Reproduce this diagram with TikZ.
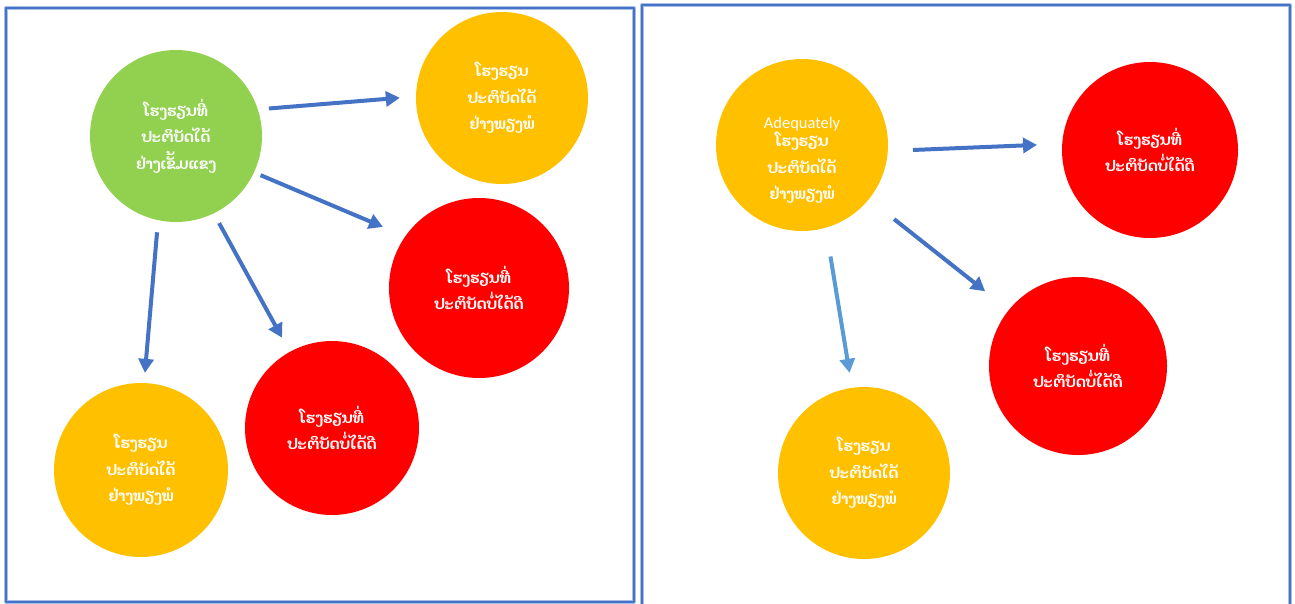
\documentclass[tikz,border=0pt]{standalone}
\usepackage{fontspec}
\newfontfamily\laofont[Script=Lao]{Dhyana}
\newfontfamily\latinfont{Carlito}
\usetikzlibrary{arrows.meta}
\definecolor{frameblue}{HTML}{4472C4}
\definecolor{framehalo}{HTML}{A9BDE6}
\definecolor{lightarrow}{HTML}{5B9BD5}
\definecolor{goodgreen}{HTML}{92D050}
\definecolor{okyellow}{HTML}{FFC000}
\definecolor{badred}{HTML}{FF0000}
\tikzset{
	school/.style={circle,minimum size=#1,inner sep=0pt,text=white,align=center,font=\laofont\bfseries\fontsize{15}{26.5}\selectfont},
	strong/.style={school=#1,fill=goodgreen},
	enough/.style={school=#1,fill=okyellow},
	weak/.style={school=#1,fill=badred},
	arr/.style={line width=4pt,frameblue,-{Triangle[length=14pt,width=15pt]}}
}
\begin{document}
\begin{tikzpicture}[x=1pt,y=-1pt,line join=round]
	\useasboundingbox (0,0) rectangle (1295,603);
	% panels
	\draw[framehalo,line width=4pt] (6,8) rectangle (634,602);
	\draw[frameblue,line width=1.6pt] (6,8) rectangle (634,602);
	\draw[framehalo,line width=4pt] (642,606)--(642,5)--(1290,5)--(1290,606);
	\draw[frameblue,line width=1.6pt] (642,606)--(642,5)--(1290,5)--(1290,606);
	% left panel
	\node[strong=172pt] (g) at (176,136) {ໂຮງຮຽນທີ່\\ປະຕິບັດໄດ້\\ຢ່າງເຂັ້ມແຂງ};
	\node[enough=172pt] (y1) at (502,98) {ໂຮງຮຽນ\\ປະຕິບັດໄດ້\\ຢ່າງພຽງພໍ};
	\node[weak=180pt] (r1) at (479,288) {ໂຮງຮຽນທີ່\\ປະຕິບັດບໍ່ໄດ້ດີ};
	\node[weak=174pt] (r2) at (332,428) {ໂຮງຮຽນທີ່\\ປະຕິບັດບໍ່ໄດ້ດີ};
	\node[enough=174pt] (y2) at (141,470) {ໂຮງຮຽນ\\ປະຕິບັດໄດ້\\ຢ່າງພຽງພໍ};
	\draw[arr,shorten <=11pt,shorten >=16pt] (g.18.6) -- (y1.179.4);
	\draw[arr,shorten <=7pt,shorten >=24pt] (g.-25.5) -- (r1.145.7);
	\draw[arr,shorten <=11pt,shorten >=16pt] (g.-64.5) -- (r2.119.5);
	\draw[arr,shorten <=12pt,shorten >=10pt] (g.-102.9) -- (y2.88.8);
	% right panel
	\node[enough=172pt] (y3) at (802,145) {{\latinfont\mdseries\fontsize{16.5}{16}\selectfont\rule{0pt}{42pt}Adequately}\\[-8pt]ໂຮງຮຽນ\\ປະຕິບັດໄດ້\\ຢ່າງພຽງພໍ};
	\node[weak=176pt] (r3) at (1150,150) {ໂຮງຮຽນທີ່\\ປະຕິບັດບໍ່ໄດ້ດີ};
	\node[weak=178pt] (r4) at (1078,366) {ໂຮງຮຽນທີ່\\ປະຕິບັດບໍ່ໄດ້ດີ};
	\node[enough=172pt] (y4) at (864,473) {ໂຮງຮຽນ\\ປະຕິບັດໄດ້\\ຢ່າງພຽງພໍ};
	\draw[arr,shorten <=25pt,shorten >=25pt] (y3.-4.1) -- (r3.176.5);
	\draw[arr,shorten <=32pt,shorten >=30pt] (y3.-39.5) -- (r4.141.5);
	\draw[arr,lightarrow,shorten <=29pt,shorten >=15pt] (y3.-74.9) -- (y4.98);
\end{tikzpicture}
\end{document}
